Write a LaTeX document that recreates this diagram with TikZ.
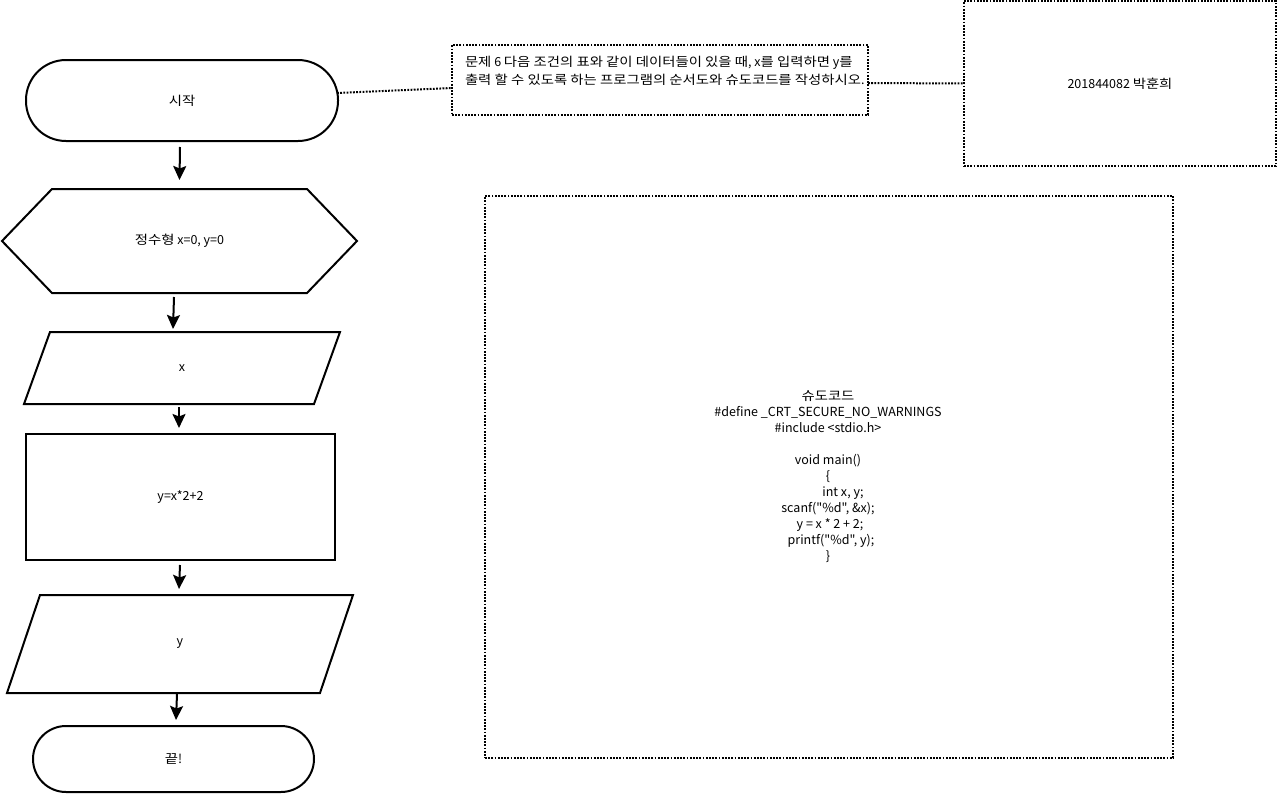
\documentclass[tikz,border=0pt]{standalone}
\usepackage{fontspec}
\newfontfamily\kr{Noto Sans CJK KR}
\newfontfamily\krwide[FakeStretch=1.15]{Noto Sans CJK KR}
\newcommand{\ko}[1]{{\krwide #1}}
\usetikzlibrary{arrows.meta}
\begin{document}
\begin{tikzpicture}[x=1pt,y=-1pt,
  every node/.style={font=\kr\fontsize{12.5}{16}\selectfont, inner sep=0pt, outer sep=0pt},
  shapeline/.style={draw=black, line width=2pt},
  dotline/.style={draw=black, line width=2pt, dash pattern=on 1.8pt off 1.4pt},
  arr/.style={draw=black, line width=2pt, -{Stealth[length=14pt,width=13pt,inset=2.5pt]}}
]
\useasboundingbox (0,0) rectangle (1278,795);

% flowchart
\node[shapeline, rounded corners=40pt, minimum width=312pt, minimum height=81pt] (start) at (182,100.5) {\ko{시작}};

\node[minimum width=355pt, minimum height=104pt] (hex) at (179.5,241) {\ko{정수형} x=0, y=0};
\draw[shapeline] (hex.west) -- ([xshift=50pt]hex.north west) -- ([xshift=-50pt]hex.north east) -- (hex.east) -- ([xshift=-50pt]hex.south east) -- ([xshift=50pt]hex.south west) -- cycle;

\node[minimum width=316pt, minimum height=72pt] (inx) at (182,368) {x};
\draw[shapeline] ([xshift=26pt]inx.north west) -- (inx.north east) -- ([xshift=-26pt]inx.south east) -- (inx.south west) -- cycle;

\node[shapeline, minimum width=309pt, minimum height=126pt] (proc) at (180.5,497) {y=x*2+2};

\node[minimum width=346pt, minimum height=98pt] (outy) at (180,644) {y};
\draw[shapeline] ([xshift=33pt]outy.north west) -- (outy.north east) -- ([xshift=-33pt]outy.south east) -- (outy.south west) -- cycle;

\node[shapeline, rounded corners=33pt, minimum width=281pt, minimum height=66pt] (stop) at (173.5,759) {\ko{끝}!};

% arrows
\draw[arr] ([shift={(-2,6)}]start.south) -- ([shift={(0,-9)}]hex.north);
\draw[arr] ([shift={(-5.5,4)}]hex.south) -- ([shift={(-9,-3)}]inx.north);
\draw[arr] ([shift={(-3,3)}]inx.south) -- ([shift={(-1.5,-6)}]proc.north);
\draw[arr] ([shift={(-0.5,5)}]proc.south) -- ([shift={(-1,-6)}]outy.north);
\draw[arr] ([shift={(-3,1)}]outy.south) -- ([shift={(2.5,-6)}]stop.north);

% question box
\node[dotline, minimum width=416pt, minimum height=70pt] (q) at (660,80) {};
\node[anchor=west, align=left, font=\kr\fontsize{12.5}{18}\selectfont] (qtext) at (465,71) {\ko{문제} 6 \ko{다음 조건의 표와 같이 데이터들이 있을 때}, x\ko{를 입력하면} y\ko{를}\\\ko{출력 할 수 있도록 하는 프로그램의 순서도와 슈도코드를 작성하시오}.};

% name box
\node[dotline, minimum width=312pt, minimum height=165pt] (name) at (1120,83.5) {201844082 \ko{박훈희}};

% code box
\node[dotline, minimum width=688pt, minimum height=562pt] (code) at (829,477) {};
\node[align=center] (codetext) at (828,477) {\ko{슈도코드}\\\#define \_CRT\_SECURE\_NO\_WARNINGS\\\#include <stdio.h>\\[16pt]void main()\\\{\\\hspace*{30pt}int x, y;\\scanf("\%d", \&x);\\\hspace*{4pt}y = x * 2 + 2;\\\hspace*{6pt}printf("\%d", y);\\\}};

% dotted connectors
\draw[dotline] ([shift={(-1,-7.5)}]start.east) -- ([shift={(0,8)}]q.west);
\draw[dotline] ([shift={(0,3)}]q.east) -- (name.west);
\end{tikzpicture}
\end{document}
